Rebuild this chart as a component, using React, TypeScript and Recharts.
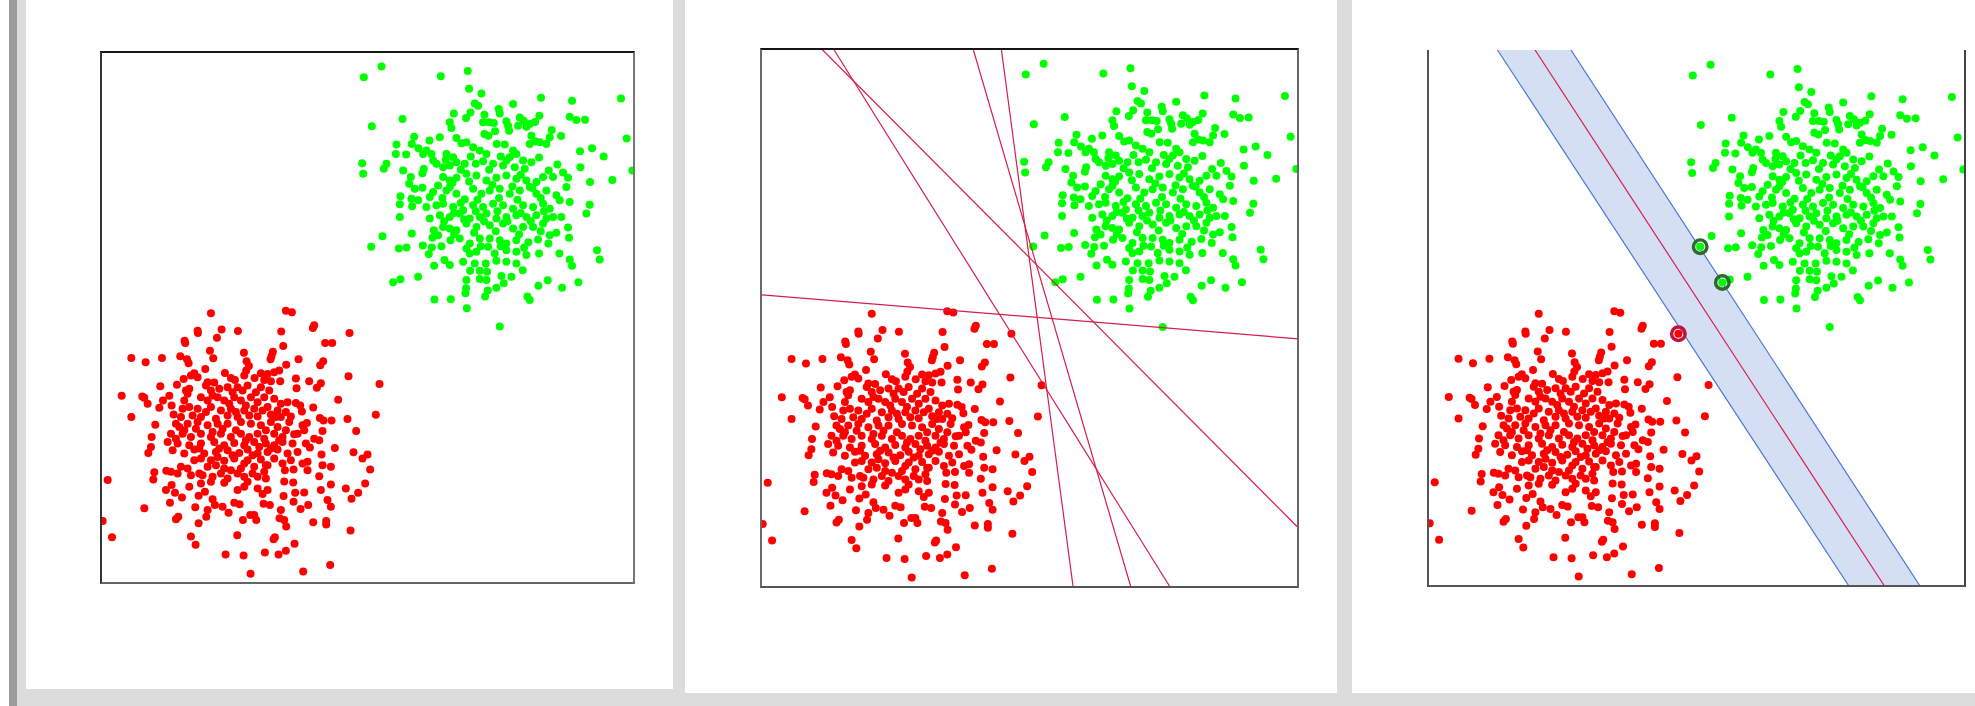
import React from 'react';
import {ComposedChart, Scatter, Area, XAxis, YAxis} from 'recharts';

// both clusters (units: 0..16 on each axis)
const redPoints: [number, number][] = [
    [3.30, 8.13], [5.55, 8.20], [5.73, 8.16], [6.40, 7.77], [6.36, 7.68], [2.90, 7.60], [2.91, 7.53], [3.62, 7.64],
    [4.11, 7.59], [5.41, 7.58], [7.46, 7.53], [3.48, 7.39], [2.51, 7.30], [2.53, 7.23], [6.73, 7.23], [6.94, 7.23],
    [5.47, 7.14], [3.27, 7.00], [4.29, 6.94], [5.16, 6.97], [5.12, 6.84], [2.38, 6.83], [2.58, 6.74], [2.63, 6.62],
    [0.91, 6.78], [1.34, 6.65], [1.83, 6.78], [3.37, 6.77], [5.93, 6.74], [5.09, 6.74], [6.67, 6.68], [6.58, 6.56],
    [4.37, 6.68], [4.44, 6.54], [5.56, 6.58], [3.13, 6.45], [3.72, 6.33], [4.36, 6.40], [4.30, 6.25], [4.80, 6.32],
    [5.00, 6.30], [5.20, 6.35], [5.35, 6.40], [2.80, 6.32], [2.90, 6.20], [2.70, 6.25], [2.48, 6.15], [7.43, 6.23],
    [5.85, 6.16], [5.87, 5.87], [3.90, 6.18], [4.02, 6.12], [4.61, 6.18], [4.90, 6.12], [5.10, 6.08], [5.38, 6.08],
    [6.25, 6.08], [6.60, 6.02], [6.48, 5.88], [8.36, 6.00], [1.78, 5.93], [2.28, 5.97], [3.20, 6.05], [3.40, 6.04],
    [3.80, 5.90], [4.10, 5.90], [4.40, 5.95], [4.80, 5.90], [3.30, 5.80], [2.55, 5.80], [2.65, 5.85], [0.62, 5.64],
    [1.24, 5.62], [1.30, 5.58], [1.40, 5.40], [2.05, 5.64], [1.86, 5.50], [2.12, 5.35], [7.12, 5.52], [2.60, 5.70],
    [2.50, 5.50], [3.00, 5.60], [3.20, 5.50], [3.50, 5.60], [3.70, 5.50], [4.00, 5.60], [4.20, 5.50], [4.50, 5.60],
    [4.70, 5.45], [4.90, 5.60], [5.20, 5.55], [5.40, 5.40], [5.60, 5.45], [5.85, 5.42], [5.98, 5.35], [6.37, 5.29],
    [1.75, 5.28], [2.45, 5.25], [2.65, 5.30], [2.90, 5.25], [3.30, 5.30], [3.60, 5.20], [3.90, 5.25], [4.30, 5.20],
    [4.60, 5.25], [5.00, 5.30], [5.30, 5.20], [5.55, 5.15], [6.03, 5.17], [8.25, 5.07], [0.91, 5.00], [2.18, 5.08],
    [2.75, 5.05], [3.00, 5.00], [3.80, 5.05], [4.10, 5.00], [4.70, 5.02], [5.10, 5.08], [5.40, 5.00], [5.70, 5.02],
    [7.40, 4.94], [6.92, 4.90], [6.57, 4.97], [6.68, 4.90], [1.63, 4.77], [2.25, 4.80], [2.35, 4.70], [2.60, 4.80],
    [2.90, 4.85], [3.20, 4.75], [3.50, 4.80], [3.80, 4.80], [4.20, 4.85], [4.50, 4.80], [4.80, 4.75], [5.10, 4.85],
    [5.30, 4.70], [5.65, 4.85], [6.05, 4.75], [6.18, 4.82], [6.10, 4.60], [6.65, 4.58], [7.66, 4.58], [1.52, 4.40],
    [2.10, 4.50], [2.25, 4.35], [2.45, 4.50], [2.70, 4.40], [3.00, 4.50], [3.30, 4.40], [3.60, 4.50], [3.90, 4.40],
    [4.20, 4.50], [4.45, 4.40], [4.70, 4.50], [4.90, 4.35], [5.20, 4.50], [5.45, 4.40], [5.80, 4.48], [6.40, 4.35],
    [6.55, 4.30], [2.00, 4.25], [2.30, 4.20], [2.65, 4.15], [3.00, 4.20], [3.40, 4.25], [3.70, 4.15], [4.00, 4.22],
    [4.30, 4.15], [4.60, 4.25], [4.95, 4.20], [5.20, 4.15], [5.45, 4.25], [5.75, 4.20], [6.15, 4.20], [6.27, 4.08],
    [1.50, 4.10], [1.42, 3.92], [7.02, 4.07], [7.58, 3.94], [6.62, 3.87], [2.15, 4.00], [2.50, 3.90], [2.80, 4.02],
    [3.10, 3.90], [3.45, 3.95], [3.80, 4.00], [4.15, 3.92], [4.40, 4.02], [4.70, 3.90], [5.00, 3.95], [5.30, 4.02],
    [5.60, 3.90], [5.90, 3.95], [8.00, 3.87], [7.85, 3.75], [3.00, 3.75], [3.30, 3.70], [3.70, 3.68], [4.00, 3.75],
    [4.40, 3.70], [4.80, 3.72], [5.20, 3.75], [5.45, 3.60], [5.70, 3.70], [6.05, 3.60], [6.20, 3.65], [2.40, 3.50],
    [2.10, 3.35], [2.60, 3.45], [3.20, 3.50], [3.45, 3.55], [3.90, 3.40], [4.20, 3.45], [4.60, 3.50], [4.95, 3.55],
    [5.52, 3.40], [5.78, 3.42], [6.20, 3.40], [6.65, 3.55], [6.90, 3.50], [8.08, 3.42], [1.60, 3.34], [1.57, 3.12],
    [1.96, 3.38], [2.30, 3.30], [2.70, 3.25], [2.95, 3.30], [3.35, 3.20], [3.60, 3.30], [3.80, 3.15], [4.10, 3.30],
    [4.30, 3.20], [4.40, 3.05], [4.70, 3.20], [4.95, 3.15], [0.20, 3.10], [6.55, 3.22], [5.50, 3.06], [5.77, 3.03],
    [6.90, 2.97], [7.93, 3.00], [2.12, 2.95], [2.65, 2.90], [3.00, 3.00], [3.30, 3.05], [3.70, 3.02], [4.10, 2.80],
    [4.30, 2.90], [4.70, 2.85], [5.00, 2.80], [1.95, 2.80], [2.22, 2.72], [2.43, 2.58], [2.93, 2.63], [3.12, 2.75],
    [5.83, 2.72], [6.10, 2.73], [6.60, 2.80], [7.35, 2.85], [7.72, 2.72], [7.52, 2.54], [5.48, 2.62], [4.85, 2.68],
    [1.30, 2.25], [2.07, 2.42], [2.83, 2.28], [3.35, 2.52], [3.42, 2.35], [3.20, 2.20], [3.65, 2.30], [3.83, 2.12],
    [4.00, 2.42], [4.16, 2.37], [4.88, 2.39], [5.07, 2.35], [5.78, 2.45], [5.99, 2.23], [6.22, 2.35], [6.80, 2.50],
    [6.90, 2.30], [5.40, 2.20], [5.36, 1.95], [5.50, 1.90], [2.25, 1.92], [2.32, 2.00], [2.93, 1.80], [3.16, 2.00],
    [4.26, 1.90], [4.48, 2.05], [4.60, 2.05], [4.66, 1.90], [0.05, 1.87], [6.37, 1.83], [6.76, 1.87], [6.76, 1.76],
    [5.56, 1.70], [7.49, 1.58], [0.33, 1.38], [2.70, 1.40], [2.84, 1.15], [4.09, 1.44], [5.22, 1.38], [5.18, 1.32],
    [5.81, 1.18], [3.74, 0.86], [4.28, 0.83], [4.92, 0.92], [5.33, 0.86], [5.55, 0.97], [6.88, 0.54], [6.07, 0.35],
    [4.49, 0.28],
    // dense middle
    [3.15, 5.95], [3.55, 5.85], [3.95, 5.75], [4.25, 5.80], [4.65, 5.75], [5.05, 5.80], [3.35, 5.65], [4.35, 5.35],
    [4.85, 5.20], [3.85, 5.40], [3.15, 5.15], [4.05, 5.15], [4.45, 5.05], [5.25, 5.00], [3.45, 4.95], [2.85, 4.65],
    [3.65, 4.65], [4.05, 4.60], [4.95, 4.60], [5.55, 4.60], [3.35, 4.55], [4.35, 4.30], [4.75, 4.10], [3.55, 4.05],
    [2.95, 4.05], [5.35, 4.30], [5.10, 4.05], [3.95, 3.85], [4.55, 3.85], [3.50, 3.80], [2.80, 3.70], [5.00, 3.55],
    [4.30, 3.60], [3.70, 3.45], [4.90, 3.35], [3.05, 3.25], [4.55, 3.30], [2.50, 4.60], [2.40, 5.00], [5.90, 4.50],
];

const greenPoints: [number, number][] = [
    [8.42, 15.56], [7.89, 15.24], [10.20, 15.27], [11.01, 15.43], [11.05, 14.89], [11.42, 14.75], [13.21, 14.62],
    [12.37, 14.43], [14.14, 14.53], [15.61, 14.60], [11.22, 14.45], [11.32, 14.38], [11.94, 14.28], [11.97, 14.15],
    [10.59, 14.15], [10.96, 14.01], [11.09, 14.18], [11.51, 14.11], [11.47, 13.88], [11.65, 13.88], [11.79, 13.86],
    [12.57, 14.03], [12.69, 13.93], [12.87, 13.83], [12.52, 13.78], [12.77, 13.75], [13.16, 14.08], [13.03, 13.89],
    [14.07, 14.05], [14.27, 13.95], [14.53, 13.96], [9.05, 13.98], [10.47, 13.88], [10.52, 13.71], [12.17, 13.91],
    [12.22, 13.78], [12.25, 13.63], [13.53, 13.65], [13.47, 13.43], [8.13, 13.76], [11.83, 13.61], [11.51, 13.53],
    [11.63, 13.48], [12.92, 13.48], [12.87, 13.23], [13.03, 13.31], [13.17, 13.28], [13.37, 13.23], [13.81, 13.47],
    [15.78, 13.39], [9.40, 13.45], [9.33, 13.23], [9.86, 13.33], [10.17, 13.43], [10.67, 13.41], [10.82, 13.25],
    [10.97, 13.28], [8.87, 13.21], [8.85, 12.93], [11.88, 13.23], [12.12, 13.21], [9.53, 13.10], [9.77, 13.03],
    [9.92, 12.93], [9.67, 12.93], [10.37, 12.93], [10.57, 12.83], [11.17, 13.13], [11.37, 13.03], [11.57, 12.93],
    [12.37, 13.03], [12.47, 12.93], [12.27, 12.83], [12.67, 12.73], [12.92, 12.68], [13.15, 12.82], [14.38, 13.01],
    [14.74, 13.10], [15.09, 12.85], [7.84, 12.65], [7.87, 12.33], [8.57, 12.63], [8.49, 12.48], [9.16, 12.91],
    [9.07, 12.43], [9.97, 12.73], [10.07, 12.63], [10.27, 12.53], [10.47, 12.58], [10.67, 12.68], [10.92, 12.63],
    [11.25, 12.63], [11.47, 12.71], [11.77, 12.63], [12.07, 12.58], [12.17, 12.73], [12.42, 12.53], [12.72, 12.48],
    [14.39, 12.53], [13.70, 12.61], [13.44, 12.43], [13.57, 12.23], [13.87, 12.37], [14.02, 12.21], [15.95, 12.43],
    [9.69, 12.48], [9.65, 12.35], [9.30, 12.23], [9.25, 12.03], [9.42, 11.88], [10.27, 12.23], [10.47, 12.13],
    [10.67, 12.21], [10.97, 12.33], [11.27, 12.28], [11.57, 12.13], [11.87, 12.21], [12.17, 12.28], [12.47, 12.18],
    [12.77, 12.13], [13.07, 12.08], [13.27, 12.23], [14.68, 12.08], [15.35, 12.14], [9.65, 11.91], [10.12, 11.98],
    [9.97, 11.78], [9.87, 11.63], [10.37, 11.83], [10.67, 11.73], [10.47, 11.93], [10.92, 11.56], [11.17, 11.88],
    [11.42, 11.73], [11.67, 11.83], [11.97, 11.88], [12.27, 11.73], [12.57, 11.83], [12.87, 11.93], [13.07, 11.73],
    [13.37, 11.83], [13.97, 11.93], [8.99, 11.65], [8.97, 11.41], [9.32, 11.58], [9.34, 11.35], [9.52, 11.53],
    [13.67, 11.68], [13.77, 11.53], [14.07, 11.48], [14.67, 11.40], [14.57, 11.13], [9.77, 11.33], [10.07, 11.38],
    [10.27, 11.43], [10.57, 11.33], [10.87, 11.23], [11.17, 11.38], [11.47, 11.33], [11.77, 11.43], [12.07, 11.38],
    [12.37, 11.28], [12.67, 11.38], [12.97, 11.33], [13.27, 11.43], [13.47, 11.28], [8.97, 11.03], [9.87, 10.98],
    [10.17, 11.08], [10.47, 11.03], [10.77, 11.13], [11.07, 10.98], [11.37, 11.03], [11.57, 11.13], [11.87, 10.98],
    [12.17, 11.03], [12.47, 11.08], [12.77, 11.03], [13.07, 11.08], [13.37, 10.98], [13.57, 11.03], [13.82, 11.03],
    [9.99, 10.63], [10.27, 10.73], [10.47, 10.68], [10.67, 10.63], [10.97, 10.83], [11.27, 10.73], [11.67, 10.78],
    [12.07, 10.83], [12.37, 10.68], [12.67, 10.73], [12.97, 10.73], [13.27, 10.83], [14.02, 10.71], [13.67, 10.55],
    [8.45, 10.45], [9.33, 10.53], [9.95, 10.40], [10.12, 10.48], [10.22, 10.15], [10.49, 10.33], [10.77, 10.38],
    [11.07, 10.23], [11.37, 10.38], [11.67, 10.38], [11.97, 10.33], [12.17, 10.23], [12.47, 10.33], [12.83, 10.27],
    [13.12, 10.35], [13.47, 10.48], [13.43, 10.23], [14.05, 10.40], [8.11, 10.13], [8.94, 10.08], [9.17, 10.11],
    [9.66, 10.17], [9.93, 10.11], [9.84, 9.91], [10.97, 10.08], [11.27, 9.98], [11.07, 9.93], [11.62, 10.13],
    [11.82, 9.93], [12.17, 10.03], [12.47, 9.98], [12.77, 9.88], [13.15, 9.93], [13.76, 9.93], [14.89, 10.03],
    [14.97, 9.75], [10.31, 9.73], [10.47, 9.58], [10.00, 9.56], [10.87, 9.68], [11.22, 9.63], [11.55, 9.63],
    [11.87, 9.71], [12.17, 9.68], [12.47, 9.63], [14.07, 9.75], [14.14, 9.56], [11.08, 9.41], [11.37, 9.41],
    [11.59, 9.38], [12.66, 9.42], [8.77, 9.06], [8.99, 9.15], [9.52, 9.23], [10.97, 9.13], [10.96, 8.88],
    [10.94, 8.73], [11.37, 9.16], [11.57, 9.13], [12.02, 9.25], [12.09, 9.03], [12.32, 9.23], [11.87, 8.90],
    [11.61, 8.81], [11.53, 8.63], [13.13, 8.96], [13.41, 9.12], [13.84, 8.90], [14.33, 9.06], [10.01, 8.54],
    [10.50, 8.55], [12.80, 8.63], [12.87, 8.53], [10.98, 8.28], [11.97, 7.73],
    // dense middle
    [10.35, 12.75], [10.80, 12.45], [11.10, 12.85], [11.65, 12.45], [12.00, 12.85], [12.60, 12.30], [10.55, 12.05],
    [11.05, 12.10], [11.75, 12.00], [12.35, 11.95], [12.95, 11.90], [10.25, 11.60], [10.80, 11.45], [11.30, 11.55],
    [11.95, 11.60], [12.50, 11.55], [13.20, 11.60], [10.60, 11.15], [11.25, 11.20], [11.90, 11.20], [12.60, 11.15],
    [13.30, 11.20], [10.30, 10.90], [10.90, 10.95], [11.50, 10.90], [12.20, 10.90], [12.90, 10.90], [10.60, 10.50],
    [11.20, 10.55], [11.85, 10.60], [12.55, 10.50], [13.20, 10.60], [11.40, 10.15], [12.00, 10.15], [12.70, 10.10],
];

// some possible separating lines (panel 2)
const candidateLines: [number, number, number, number][] = [
    [1.81, 16, 15.97, 1.80],
    [2.16, 16, 12.19, 0],
    [6.32, 16, 11.02, 0],
    [7.16, 16, 9.30, 0],
    [0, 8.69, 16, 7.38],
];

// max margin solution (panel 3)
const marginLow: [number, number, number, number] = [2.07, 16, 12.54, 0];
const marginHigh: [number, number, number, number] = [4.26, 16, 14.66, 0];
const separator: [number, number, number, number] = [3.19, 16, 13.60, 0];
const greenSupport: [number, number][] = [[8.11, 10.13], [8.77, 9.06]];
const redSupport: [number, number][] = [[7.46, 7.53]];

const RED = '#ff0000';
const GREEN = '#00ff00';
const CRIMSON = '#d41f4c';
const BLUE = '#4a78d8';

const toRows = (pts: [number, number][]) => pts.map(([x, y]) => ({x, y}));
const lineRows = (l: [number, number, number, number]) => [{x: l[0], y: l[1]}, {x: l[2], y: l[3]}];
const yAt = (l: [number, number, number, number], x: number) => l[1] + (x - l[0]) * (l[3] - l[1]) / (l[2] - l[0]);

// polygon of the margin band, as a range area
const bandRows = [
    {x: marginLow[0], band: [16, 16]},
    {x: marginHigh[0], band: [yAt(marginLow, marginHigh[0]), 16]},
    {x: marginLow[2], band: [0, yAt(marginHigh, marginLow[2])]},
    {x: marginHigh[2], band: [0, 0]},
];

const dot = (color: string) => (p: any) => <circle cx={p.cx} cy={p.cy} r={4} fill={color}/>;
const ring = (color: string) => (p: any) => <circle cx={p.cx} cy={p.cy} r={6.8} fill="none" stroke={color} strokeWidth={3.4}/>;
const noShape = () => <g/>;

function Panel({width, height, data, children}: any) {
    return (
        <ComposedChart width={width} height={height} data={data} margin={{top: 0, right: 0, bottom: 0, left: 0}}>
            <XAxis type="number" dataKey="x" domain={[0, 16]} allowDataOverflow hide/>
            <YAxis type="number" dataKey="y" domain={[0, 16]} allowDataOverflow hide/>
            {children}
        </ComposedChart>
    );
}

const box = (left: number, top: number, w: number, h: number, borders: any): React.CSSProperties => ({
    position: 'absolute', left, top, width: w, height: h, boxSizing: 'border-box', pointerEvents: 'none', ...borders,
});

export default function App() {
    const red = toRows(redPoints);
    const green = toRows(greenPoints);
    return (
        <div style={{position: 'absolute', left: 0, top: 0, width: 1975, height: 706, background: '#fff', overflow: 'hidden'}}>
            <div style={{position: 'absolute', left: 9, top: 0, width: 8, height: 706, background: '#9c9c9c'}}/>
            <div style={{position: 'absolute', left: 17, top: 0, width: 1958, height: 706, background: '#dcdcdc'}}/>
            <div style={{position: 'absolute', left: 26, top: 0, width: 647, height: 689, background: '#fff'}}/>
            <div style={{position: 'absolute', left: 685, top: 0, width: 652, height: 693, background: '#fff'}}/>
            <div style={{position: 'absolute', left: 1352, top: 0, width: 623, height: 693, background: '#fff'}}/>

            {/* panel 1: the data */}
            <div style={{position: 'absolute', left: 101, top: 52}}>
                <Panel width={533} height={531}>
                    <Scatter data={red} fill={RED} shape={dot(RED)} isAnimationActive={false}/>
                    <Scatter data={green} fill={GREEN} shape={dot(GREEN)} isAnimationActive={false}/>
                </Panel>
            </div>
            <div style={box(100, 51, 535, 533, {borderTop: '2px solid #151515', borderLeft: '2px solid #333', borderRight: '2px solid #777', borderBottom: '2px solid #666'})}/>

            {/* panel 2: many separating lines */}
            <div style={{position: 'absolute', left: 761, top: 49}}>
                <Panel width={537} height={538}>
                    <Scatter data={red} fill={RED} shape={dot(RED)} isAnimationActive={false}/>
                    <Scatter data={green} fill={GREEN} shape={dot(GREEN)} isAnimationActive={false}/>
                    {candidateLines.map((l, i) => (
                        <Scatter key={i} data={lineRows(l)} fill={CRIMSON} line={{stroke: CRIMSON, strokeWidth: 1.2}}
                                 shape={noShape} isAnimationActive={false}/>
                    ))}
                </Panel>
            </div>
            <div style={box(760, 48, 539, 540, {borderTop: '2px solid #151515', borderLeft: '2px solid #6a6a6a', borderRight: '2px solid #666', borderBottom: '2px solid #555'})}/>

            {/* panel 3: max margin */}
            <div style={{position: 'absolute', left: 1428, top: 50}}>
                <Panel width={537} height={536} data={bandRows}>
                    <Area type="linear" dataKey="band" fill="#d5dff4" fillOpacity={1} stroke="none" isAnimationActive={false}/>
                    <Scatter data={lineRows(marginLow)} fill={BLUE} line={{stroke: BLUE, strokeWidth: 1.2}} shape={noShape} isAnimationActive={false}/>
                    <Scatter data={lineRows(marginHigh)} fill={BLUE} line={{stroke: BLUE, strokeWidth: 1.2}} shape={noShape} isAnimationActive={false}/>
                    <Scatter data={lineRows(separator)} fill={CRIMSON} line={{stroke: CRIMSON, strokeWidth: 1.2}} shape={noShape} isAnimationActive={false}/>
                    <Scatter data={red} fill={RED} shape={dot(RED)} isAnimationActive={false}/>
                    <Scatter data={green} fill={GREEN} shape={dot(GREEN)} isAnimationActive={false}/>
                    <Scatter data={toRows(greenSupport)} fill="#2d6a2d" shape={ring('#2d6a2d')} isAnimationActive={false}/>
                    <Scatter data={toRows(redSupport)} fill="#c3103c" shape={ring('#c3103c')} isAnimationActive={false}/>
                </Panel>
            </div>
            <div style={box(1427, 50, 539, 537, {borderLeft: '2px solid #555', borderRight: '2px solid #444', borderBottom: '2px solid #555'})}/>
        </div>
    );
}
